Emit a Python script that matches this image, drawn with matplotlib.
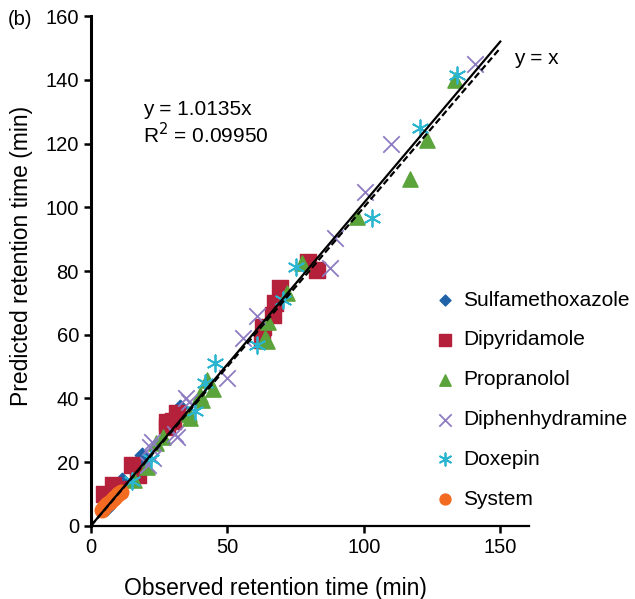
import matplotlib
matplotlib.use("Agg")
import matplotlib.pyplot as plt
import numpy as np

plt.rcParams['font.family'] = ['Liberation Sans', 'DejaVu Sans']

# observed / predicted retention times (min)
sulfa_obs = [5.9, 11.4, 18.7, 19.0, 32.6, 32.0]
sulfa_pred = [5.6, 14.4, 22.3, 21.0, 37.3, 35.0]

dipy_obs = [5.0, 8.0, 10.0, 15.0, 17.2, 27.8, 28.0, 30.0, 31.5,
            62.6, 63.0, 66.7, 67.5, 69.3, 79.6, 82.9]
dipy_pred = [10.0, 12.8, 11.6, 19.0, 16.0, 31.0, 32.6, 33.0, 35.4,
             58.4, 62.4, 66.2, 70.0, 74.7, 82.8, 80.3]

prop_obs = [16.0, 20.5, 24.0, 26.4, 36.0, 36.3, 40.0, 40.7, 42.5, 44.7,
            63.8, 64.5, 65.0, 71.8, 77.4, 97.5, 117.0, 123.0, 133.5]
prop_pred = [14.4, 18.5, 26.0, 28.0, 35.0, 34.0, 41.0, 39.5, 45.8, 43.0,
             59.0, 58.0, 64.0, 73.0, 82.5, 97.0, 109.0, 121.0, 140.0]

diph_obs = [21.0, 21.6, 22.4, 22.7, 30.8, 31.5, 35.0, 36.0, 49.8, 55.8,
            61.0, 87.6, 89.5, 100.5, 110.0, 140.8]
diph_pred = [19.0, 24.8, 26.4, 21.3, 29.0, 28.0, 40.0, 39.0, 46.4, 59.0,
             66.0, 81.0, 90.4, 104.8, 120.0, 145.0]

dox_obs = [15.0, 22.0, 38.0, 41.8, 45.5, 61.0, 70.4, 75.0, 103.0, 120.6, 134.0]
dox_pred = [14.0, 21.0, 36.0, 44.9, 51.0, 56.8, 70.9, 81.3, 96.6, 124.9, 141.5]

sys_obs = [4.0, 5.0, 6.0, 7.0, 8.0, 9.0, 10.0, 11.0]
sys_pred = [5.0, 6.0, 7.0, 7.5, 8.5, 9.0, 10.0, 10.5]

slope = 1.0135

fig = plt.figure(figsize=(6.35, 5.99), dpi=100)
ax = fig.add_axes([0.143, 0.122, 0.69, 0.851])

ax.scatter(sulfa_obs, sulfa_pred, marker='D', s=55, color='#1f62a8', label='Sulfamethoxazole', zorder=3)
ax.scatter(dipy_obs, dipy_pred, marker='s', s=120, color='#b5203a', label='Dipyridamole', zorder=3)
ax.scatter(prop_obs, prop_pred, marker='^', s=120, color='#5ba33b', label='Propranolol', zorder=3)
ax.scatter(diph_obs, diph_pred, marker='x', s=140, color='#8e7cc3', linewidths=1.3,
           label='Diphenhydramine', zorder=3)
ax.scatter(dox_obs, dox_pred, marker=(6, 2, 0), s=140, color='#2bb5d0', linewidths=1.3,
           label='Doxepin', zorder=3)
ax.scatter(sys_obs, sys_pred, marker='o', s=110, color='#f26b21', label='System', zorder=3)

xf = np.array([0, 150])
ax.plot(xf, slope * xf, color='black', lw=1.6, zorder=4)
ax.plot(xf, xf, color='black', lw=1.6, ls=(0, (3, 1.5)), zorder=4)

ax.text(155, 145, 'y = x', fontsize=15)
ax.text(19, 129, 'y = 1.0135x', fontsize=15)
ax.text(19, 120, 'R$^2$ = 0.09950', fontsize=15)

ax.set_xlim(0, 160.5)
ax.set_ylim(0, 160)
ax.set_xticks([0, 50, 100, 150])
ax.set_yticks(range(0, 161, 20))
ax.spines['top'].set_visible(False)
ax.spines['right'].set_visible(False)
ax.spines['left'].set_linewidth(2.2)
ax.spines['bottom'].set_linewidth(1.6)
ax.tick_params(direction='out', length=5, width=1.8, labelsize=14.5)
ax.set_xlabel('Observed retention time (min)', fontsize=16.5)
ax.set_ylabel('Predicted retention time (min)', fontsize=16.5)
ax.xaxis.set_label_coords(0.422, -0.1)
ax.yaxis.set_label_coords(-0.132, 0.53)

fig.text(0.012, 0.958, '(b)', fontsize=14.5)

ax.legend(loc='upper left', bbox_to_anchor=(0.687, 0.515), bbox_transform=fig.transFigure,
          frameon=False, fontsize=15, labelspacing=1.0, handlelength=0.8,
          handletextpad=0.5, markerscale=0.75, borderaxespad=0, borderpad=0)

fig.savefig('out.png', dpi=100)
